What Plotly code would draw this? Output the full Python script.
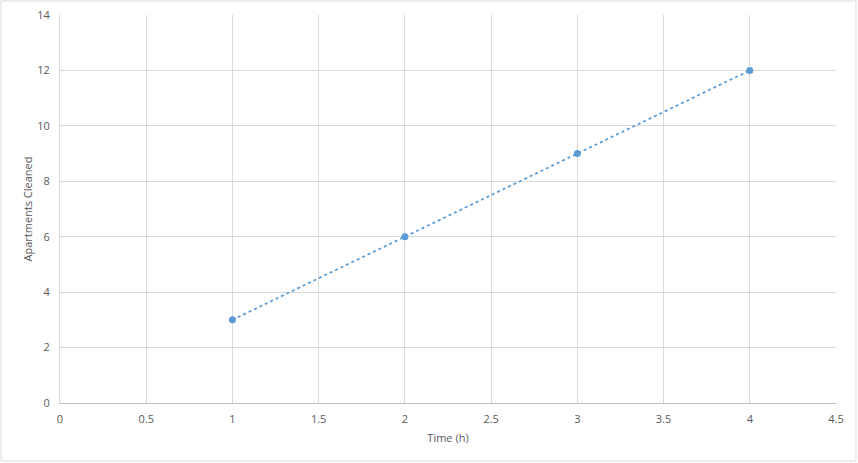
import plotly.graph_objects as go

time_h = [1, 2, 3, 4]
apartments = [3, 6, 9, 12]

fig = go.Figure()
fig.add_trace(go.Scatter(
    x=time_h, y=apartments, mode="lines+markers",
    line=dict(color="#5B9BD5", width=1.75, dash="dot"),
    marker=dict(color="#5B9BD5", size=7),
    showlegend=False,
))

font = dict(family="Open Sans, Liberation Sans, sans-serif", size=11, color="#595959")
fig.update_layout(
    width=858, height=463,
    margin=dict(l=60, r=22, t=15, b=60, autoexpand=False),
    paper_bgcolor="white", plot_bgcolor="white",
    font=font,
    xaxis=dict(range=[0, 4.5], dtick=0.5, tickformat="~g", automargin=False,
               showgrid=True, gridcolor="#D9D9D9", gridwidth=1,
               zeroline=False, showline=True, linecolor="#BFBFBF", mirror=False,
               ticks="", ticklabelstandoff=6, tickfont=font,
               title=dict(text="Time (h)", font=font, standoff=9)),
    yaxis=dict(range=[0, 14], dtick=2, automargin=False,
               showgrid=True, gridcolor="#D9D9D9", gridwidth=1,
               zeroline=False, showline=True, linecolor="#D9D9D9",
               ticks="", ticklabelstandoff=7, tickfont=font,
               title=dict(text="Apartments Cleaned", font=font, standoff=2)),
    shapes=[dict(type="rect", xref="paper", yref="paper", x0=-59/776, x1=1+20/776,
                 y0=-58/388, y1=1+14/388, line=dict(color="#D9D9D9", width=1))],
)

fig.write_html("out.html", config={"displayModeBar": False},
               post_script="document.body.style.margin='0';document.body.style.padding='0';")
